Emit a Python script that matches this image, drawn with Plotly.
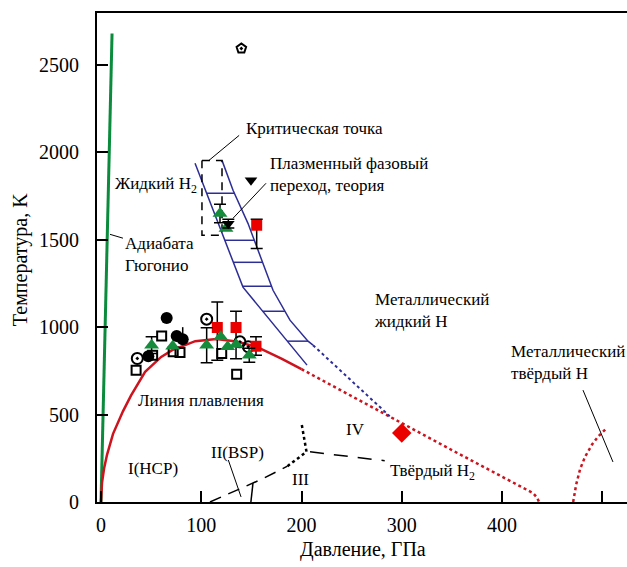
import numpy as np
import plotly.graph_objects as go

# ---------------- data ----------------
adiabat_P = [0, 2, 4.5, 6.5, 9, 11]
adiabat_T = [0, 500, 1000, 1500, 2100, 2680]

melt_P = [0, 1, 3, 6, 12, 22, 30, 44, 60, 71, 94, 115, 135, 156, 180, 200]
melt_T = [0, 110, 190, 270, 390, 520, 610, 745, 830, 869, 920, 932, 918, 886, 820, 760]

melt_ext_P = [200, 250, 300, 350, 400, 431, 435, 437]
melt_ext_T = [760, 605, 451, 297, 145, 51, 25, 0]

msolid_P = [471, 474, 478, 483, 490, 496, 503]
msolid_T = [0, 100, 190, 260, 330, 375, 415]

band_left_P = [93.8, 141.6, 205.5]
band_left_T = [1937, 1229, 783]
band_right_P = [120.7, 131.7, 146.6, 160.6, 171.6, 188.5, 206.5, 211.5]
band_right_T = [1954, 1783, 1594, 1383, 1211, 1040, 920, 897]
band_ext_P = [211.5, 288]
band_ext_T = [897, 491]
hatch_T = [1766, 1497, 1371, 1234, 1091, 920]

crit_box_P = [100.7, 120.7]
crit_box_T = [1526, 1954]

phase_dash_P = [108.7, 162, 186]
phase_dash_T = [0, 135, 205]
phase_dot_P = [186, 205, 200]
phase_dot_T = [205, 287, 451]
phase_dash2_P = [208.5, 283]
phase_dash2_T = [287, 236]
phase_23_P = [149.5, 151.6]
phase_23_T = [0, 108]

# markers
circ_P = [65.5, 75.5, 81.5, 47.2]
circ_T = [1053, 949, 931, 834]
circ_up = [0, 0, 69, 0]

sq_P = [35, 60.5, 51.5, 72, 78.8, 120.4, 135.3]
sq_T = [754, 950, 840, 859, 855, 850, 731]

cd_P = [36.2, 105.4, 138.6, 146.9]
cd_T = [821, 1046, 916, 888]

gt_P = [50.5, 105.4, 147.9, 118.7]          # with error bars
gt_T = [897, 897, 840, 1650]
gt_err = [48, 100, 40, 53]
gt2_P = [71.5, 119.4, 126.3, 134.7, 124.7]  # without error bars
gt2_T = [891, 945, 888, 901, 1564]

rs_P = [116, 134.7, 154.6, 155.3]
rs_T = [998, 998, 891, 1583]
rs_plus = [146, 93, 54, 34]
rs_minus = [187, 178, 51, 133]

inv_P = [127]
inv_T = [1592]
inv_err = [25]
inv2_P = [149.6]
inv2_T = [1840]

pent_P = [140]
pent_T = [2594]

diam_P = [300]
diam_T = [394]

xtick_vals = [0, 100, 200, 300, 400, 500]
xtick_text = ["0", "100", "200", "300", "400", " "]
ytick_vals = [0, 500, 1000, 1500, 2000, 2500]

FONT = "Liberation Serif"
BLUE = "rgb(45,45,150)"
RED = "rgb(205,20,30)"
GREEN = "rgb(10,140,60)"

fig = go.Figure()

def line(x, y, color, width, dash="solid"):
    fig.add_trace(go.Scatter(x=x, y=y, mode="lines", line=dict(color=color, width=width, dash=dash),
                             hoverinfo="skip", showlegend=False))

line(adiabat_P, adiabat_T, GREEN, 3)
line(melt_P, melt_T, RED, 2.5)
line(melt_ext_P, melt_ext_T, RED, 2.5, "dot")
line(msolid_P, msolid_T, RED, 2.5, "dot")
line(band_left_P, band_left_T, BLUE, 1.5)
line(band_right_P, band_right_T, BLUE, 1.5)
line(band_ext_P, band_ext_T, BLUE, 2, "dot")

# hatches derived from band lines
lp = np.interp(hatch_T, band_left_T[::-1], band_left_P[::-1])
rp = np.interp(hatch_T, band_right_T[::-1], band_right_P[::-1])
hx, hy = [], []
for a, b, t in zip(lp, rp, hatch_T):
    hx += [a, b, None]
    hy += [t, t, None]
line(hx, hy, BLUE, 1.5)

# critical point box
bx = [crit_box_P[0], crit_box_P[1], crit_box_P[1], crit_box_P[0], crit_box_P[0]]
by = [crit_box_T[1], crit_box_T[1], crit_box_T[0], crit_box_T[0], crit_box_T[1]]
line(bx, by, "black", 1.5, "8px,6px")

line(phase_dash_P, phase_dash_T, "black", 1.5, "12px,8px")
line(phase_dot_P, phase_dot_T, "black", 2.5, "dot")
line(phase_dash2_P, phase_dash2_T, "black", 1.5, "14px,10px")
line(phase_23_P, phase_23_T, "black", 1.5)

def marks(x, y, symbol, color, size, lw=1.5, lc="black", err=None):
    kw = {}
    if err is not None:
        kw["error_y"] = err
    fig.add_trace(go.Scatter(x=x, y=y, mode="markers",
                             marker=dict(symbol=symbol, color=color, size=size,
                                         line=dict(color=lc, width=lw)),
                             hoverinfo="skip", showlegend=False, **kw))

ebar = dict(type="data", color="black", thickness=1.5, width=6)

marks(sq_P, sq_T, "square-open", "black", 9, 2)
marks(cd_P, cd_T, "circle-open-dot", "black", 11, 2)
marks(circ_P, circ_T, "circle", "black", 12, 0,
      err=dict(ebar, array=circ_up, arrayminus=[0] * len(circ_up), width=0))
marks(rs_P, rs_T, "square", "rgb(235,0,0)", 11, 0,
      err=dict(ebar, array=rs_plus, arrayminus=rs_minus))
marks(gt_P, gt_T, "triangle-up", "rgb(20,140,60)", 13, 0, err=dict(ebar, array=gt_err))
marks(gt2_P, gt2_T, "triangle-up", "rgb(20,140,60)", 13, 0)
marks(inv_P, inv_T, "triangle-down", "black", 11, 0, err=dict(ebar, array=inv_err))
marks(inv2_P, inv2_T, "triangle-down", "black", 11, 0)
marks(pent_P, pent_T, "pentagon-open-dot", "black", 10, 2)
marks(diam_P, diam_T, "diamond", "rgb(235,0,0)", 15, 0)

# leader lines
line([107.7, 137.8], [1954, 2097], "black", 1)
line([131.7, 164.6], [1623, 1823], "black", 1)
line([9, 21.9], [1531, 1509], "black", 1)
line([127, 139.7], [240, 29], "black", 1)
line([480.8, 510.7], [640, 229], "black", 1)

# arrow on lower error bar of red square
fig.add_annotation(x=155.3, y=1440, ax=155.3, ay=1500, xref="x", yref="y", axref="x", ayref="y",
                   showarrow=True, arrowhead=2, arrowsize=1, arrowwidth=1.5, arrowcolor="black", text=" ")

def txt(x, y, s, size=17):
    fig.add_annotation(x=x, y=y, text=s, showarrow=False, xanchor="left", yanchor="middle",
                       align="left", font=dict(family=FONT, size=size, color="black"))

txt(142.6, 2137, "Критическая точка")
txt(166.6, 1874, "Плазменный фазовый<br>переход, теория")
txt(12, 1811, "Жидкий H<sub>2</sub>")
txt(22.2, 1418, "Адиабата<br>Гюгонио")
txt(270, 1095, "Металлический<br>жидкий H")
txt(407, 797, "Металлический<br>твёрдый H")
txt(242, 417, "IV")
txt(286, 171, "Твёрдый H<sub>2</sub>")
txt(35, 583, "Линия плавления")
txt(25, 189, "I(HCP)")
txt(108, 286, "II(BSP)")
txt(188.5, 126, "III")

fig.add_annotation(x=0.502, y=-0.098, xref="paper", yref="paper", text="Давление, ГПа",
                   showarrow=False, font=dict(family=FONT, size=20, color="black"),
                   xanchor="center", yanchor="middle")
fig.add_annotation(x=-0.143, y=0.495, xref="paper", yref="paper", text="Температура, K",
                   showarrow=False, textangle=-90, font=dict(family=FONT, size=20, color="black"),
                   xanchor="center", yanchor="middle")

fig.update_layout(
    width=627, height=567,
    margin=dict(l=97, r=0, t=13, b=65),
    plot_bgcolor="white", paper_bgcolor="white",
    showlegend=False,
    xaxis=dict(range=[-4, 524.7], tickvals=xtick_vals, ticktext=xtick_text,
               ticks="inside", ticklen=11, tickwidth=1.5, tickcolor="black",
               showline=True, linecolor="black", linewidth=2, mirror=True,
               showgrid=False, zeroline=False, ticklabelstandoff=4,
               tickfont=dict(family=FONT, size=20, color="black")),
    yaxis=dict(range=[0, 2797], tickvals=ytick_vals,
               ticks="inside", ticklen=11, tickwidth=1.5, tickcolor="black",
               showline=True, linecolor="black", linewidth=2,
               showgrid=False, zeroline=False, ticklabelstandoff=12,
               tickfont=dict(family=FONT, size=20, color="black")),
)

fig.write_html("out.html")
